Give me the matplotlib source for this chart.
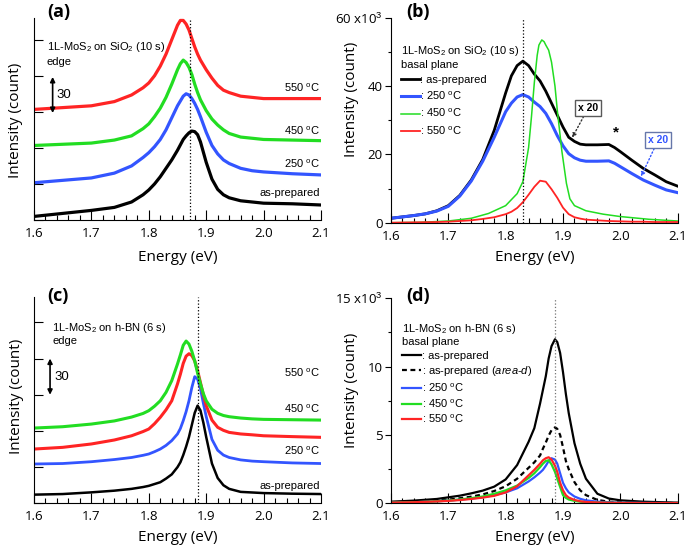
import numpy as np
import matplotlib
matplotlib.use("Agg")
import matplotlib.pyplot as plt
from matplotlib.ticker import MultipleLocator, AutoMinorLocator, FuncFormatter

plt.rcParams['font.family'] = ['Open Sans', 'DejaVu Sans']
plt.rcParams['mathtext.fontset'] = 'custom'
plt.rcParams['mathtext.rm'] = 'Liberation Sans'
plt.rcParams['mathtext.it'] = 'Liberation Sans:italic'
plt.rcParams['mathtext.bf'] = 'Liberation Sans:bold'
plt.rcParams['axes.linewidth'] = 0.8

RED = "#ff2424"
GREEN = "#22dd22"
BLUE = "#3355ff"

# ---- (a) edge, SiO2 (counts, offset spectra)
a_x = [1.60, 1.65, 1.70, 1.74, 1.77, 1.79, 1.80, 1.81, 1.82, 1.83, 1.84, 1.85, 1.855,
       1.86, 1.865, 1.87, 1.875, 1.88, 1.885, 1.89, 1.90, 1.91, 1.92, 1.93, 1.94, 1.96,
       1.98, 2.00, 2.05, 2.10]
a_asprep = [3, 5.5, 8, 10.5, 15, 21, 25, 30, 36, 43, 50, 58, 62.5, 67, 70, 72.5, 74,
            73.5, 71, 65, 48, 34, 25.5, 21, 18.5, 16, 15, 14, 13.5, 12.5]
a_250 = [31, 33, 35, 39, 45, 52, 56, 61, 67, 75, 85, 95, 99, 103, 105, 104, 101, 97,
         92, 86, 73, 62, 55, 50, 47, 43, 41, 40, 38.5, 37.5]
a_450 = [62, 63, 64, 66.5, 70, 76, 80, 86, 93, 102, 113, 125, 130, 133, 131, 127, 121,
         113, 106, 100, 91, 84, 79, 75, 72, 69, 68, 67, 66.5, 66]
a_550 = [92, 93.5, 95, 98.5, 104, 110, 114, 120, 128, 138, 150, 162, 166, 166, 163,
         158, 151, 144, 138, 133, 125, 118, 112, 108, 106, 103, 102, 101, 101, 101]
a_peak = 1.871
t_labels = ["550 $^\\mathrm{o}$C", "450 $^\\mathrm{o}$C", "250 $^\\mathrm{o}$C", "as-prepared"]
a_label_y = [110, 74, 46.5, 22.5]

# ---- (b) basal plane, SiO2 (x10^3 counts)
b_x = [1.60, 1.62, 1.64, 1.66, 1.68, 1.70, 1.72, 1.74, 1.76, 1.78, 1.80, 1.81, 1.82,
       1.83, 1.84, 1.85, 1.86, 1.87, 1.88, 1.89, 1.90, 1.91, 1.92, 1.93, 1.94, 1.96,
       1.98, 1.99, 2.00, 2.02, 2.04, 2.06, 2.08, 2.10]
b_asprep = [1.3, 1.7, 2.1, 2.6, 3.5, 5.0, 8.0, 12.5, 18.5, 27, 38, 43, 46, 47.3, 46,
            43.5, 41.5, 38.5, 35, 31.5, 28, 25, 23.8, 23.0, 22.8, 22.8, 22.9, 22.0,
            20.8, 18.3, 15.9, 14.0, 12.0, 10.7]
b_250 = [1.3, 1.7, 2.1, 2.6, 3.4, 4.8, 7.8, 12.2, 18, 25, 32.5, 35, 36.8, 37.5, 36.8,
         35.3, 34, 32, 29, 25.5, 22.5, 20.2, 19.0, 18.3, 18.0, 18.0, 18.1, 17.4, 16.4,
         14.4, 12.5, 11.0, 9.6, 8.8]
b_550 = [0.0, 0.05, 0.1, 0.15, 0.2, 0.3, 0.5, 0.7, 1.1, 1.6, 2.5, 3.2, 4.3, 6.0, 8.2,
         10.5, 12.3, 12.0, 9.8, 7.3, 4.4, 2.5, 1.6, 1.2, 0.9, 0.7, 0.5, 0.45, 0.4, 0.3,
         0.3, 0.2, 0.2, 0.2]
b_x450 = [1.60, 1.65, 1.70, 1.74, 1.77, 1.80, 1.82, 1.83, 1.84, 1.845, 1.85, 1.855,
          1.858, 1.863, 1.867, 1.87, 1.875, 1.88, 1.886, 1.89, 1.898, 1.906, 1.912,
          1.92, 1.94, 1.97, 2.00, 2.05, 2.10]
b_450 = [0, 0.1, 0.5, 1.3, 2.7, 5.0, 8.5, 12, 22, 31, 41, 49, 52, 53.5, 53, 52, 50.5,
         47, 40, 33, 21, 11.5, 7.0, 5.0, 3.5, 2.5, 1.8, 1.0, 0.5]
b_peak = 1.83

# ---- (c) edge, h-BN
c_x = [1.60, 1.65, 1.70, 1.74, 1.77, 1.79, 1.80, 1.81, 1.82, 1.83, 1.84, 1.85, 1.855,
       1.86, 1.865, 1.87, 1.875, 1.88, 1.885, 1.89, 1.895, 1.90, 1.91, 1.92, 1.93,
       1.94, 1.96, 1.98, 2.00, 2.05, 2.10]
c_asprep = [7.2, 7.7, 9.1, 10.5, 12, 13.5, 14.5, 16, 17.5, 20.5, 24, 30, 34, 40, 47,
            55, 65, 75, 81, 77, 67, 55, 33, 21, 15, 12, 9.5, 9, 8.5, 8, 7.7]
c_250 = [32.6, 33, 34.5, 36.3, 38, 39.8, 40.9, 42.8, 45, 48, 52, 57.5, 62, 68.5, 76,
         85, 96, 105, 103, 95, 83, 72, 53, 44, 40, 38, 36, 35, 34.5, 33.5, 33]
c_550 = [45, 46.4, 49.2, 52.5, 56, 59.5, 61.6, 66, 71.3, 77.5, 85, 99, 107, 116, 122,
         124, 122.5, 118, 110, 100, 90, 81, 69, 63, 60.5, 58.8, 57.5, 56.8, 56, 55.3, 54.7]
c_450 = [62.4, 63.5, 65.7, 68.3, 71.5, 74.5, 76.8, 80.5, 85, 92, 101.7, 115.5, 123,
         131, 134.5, 132, 126, 118, 108, 99, 91, 85, 78, 74.6, 72.8, 71.8, 70.7, 70,
         69.6, 69.3, 69]
c_peak = 1.886
c_label_y = [108.5, 78, 43.5, 14.5]

# ---- (d) basal plane, h-BN (x10^3 counts)
d_x = [1.60, 1.64, 1.68, 1.70, 1.72, 1.74, 1.76, 1.78, 1.80, 1.82, 1.84, 1.85, 1.86,
       1.865, 1.87, 1.875, 1.88, 1.886, 1.89, 1.895, 1.90, 1.905, 1.91, 1.92, 1.93,
       1.94, 1.96, 1.98, 2.00, 2.04, 2.10]
d_asprep = [0.12, 0.2, 0.32, 0.44, 0.56, 0.73, 0.93, 1.22, 1.75, 2.8, 4.5, 5.5, 7.3,
            8.3, 9.3, 10.6, 11.5, 12.0, 11.8, 11.0, 9.6, 8.0, 6.6, 4.4, 2.9, 1.8, 0.7,
            0.35, 0.22, 0.12, 0.05]
d_aread = [0.07, 0.12, 0.22, 0.27, 0.37, 0.49, 0.65, 0.9, 1.25, 1.8, 2.6, 3.0, 3.5,
           4.0, 4.45, 4.95, 5.35, 5.56, 5.45, 5.0, 4.1, 3.1, 2.5, 1.55, 0.95, 0.6,
           0.25, 0.12, 0.08, 0.04, 0.02]
d_250 = [0.05, 0.08, 0.15, 0.2, 0.27, 0.35, 0.45, 0.6, 0.8, 1.1, 1.6, 1.9, 2.25, 2.45,
         2.75, 3.1, 3.3, 3.2, 2.9, 2.2, 1.5, 1.1, 0.8, 0.5, 0.33, 0.22, 0.12, 0.08,
         0.05, 0.03, 0.02]
d_450 = [0.05, 0.08, 0.15, 0.2, 0.28, 0.38, 0.5, 0.7, 0.95, 1.3, 1.85, 2.2, 2.65, 2.9,
         3.1, 3.15, 2.85, 2.3, 1.8, 1.2, 0.6, 0.4, 0.28, 0.18, 0.12, 0.08, 0.05, 0.04,
         0.03, 0.02, 0.02]
d_550 = [0.05, 0.08, 0.14, 0.18, 0.24, 0.32, 0.42, 0.55, 0.8, 1.25, 2.05, 2.45, 2.9,
         3.15, 3.3, 3.37, 3.2, 2.75, 2.3, 1.5, 0.95, 0.6, 0.42, 0.25, 0.15, 0.1, 0.06,
         0.04, 0.03, 0.02, 0.02]
d_peak = 1.886

ann = {'family': 'Liberation Sans', 'size': 8}


def style_ax(ax, ymax, ymajor, yminor=None, ylabels=False):
    for s in ["top", "right"]:
        ax.spines[s].set_visible(False)
    ax.set_xlim(1.6, 2.1)
    ax.set_ylim(0, ymax)
    ax.xaxis.set_major_locator(MultipleLocator(0.1))
    ax.xaxis.set_minor_locator(AutoMinorLocator(5))
    ax.xaxis.set_major_formatter(FuncFormatter(lambda v, p: "%.1f" % v))
    ax.tick_params("x", which="major", direction="in", length=7, width=0.8,
                   labelsize=9.5, pad=5)
    ax.tick_params("x", which="minor", direction="in", length=3.5, width=0.8)
    ax.yaxis.set_major_locator(MultipleLocator(ymajor))
    if ylabels:
        ax.yaxis.set_minor_locator(MultipleLocator(yminor))
        ax.tick_params("y", which="major", direction="out", length=4, width=0.8,
                       labelsize=9.5, pad=2)
        ax.tick_params("y", which="minor", direction="out", length=2.5, width=0.8)
        ax.yaxis.set_major_formatter(FuncFormatter(
            lambda v, p: ("%g x10$^3$" % v) if abs(v - ymax) < 1e-6 else "%g" % v))
    else:
        ax.tick_params("y", which="major", direction="in", length=6.5, width=0.8,
                       labelleft=False)
    ax.set_xlabel("Energy (eV)", fontsize=11)
    ax.set_ylabel("Intensity (count)", fontsize=11)


fig = plt.figure(figsize=(6.92, 5.48), dpi=100)
ax_a = fig.add_axes([0.0491, 0.5985, 0.4148, 0.3686])
ax_b = fig.add_axes([0.565, 0.5936, 0.4143, 0.374])
ax_c = fig.add_axes([0.0491, 0.0815, 0.4148, 0.3765])
ax_d = fig.add_axes([0.565, 0.0815, 0.4143, 0.3742])

# (a)
style_ax(ax_a, 168, 30)
ax_a.plot(a_x, a_asprep, color="k", lw=2.3)
ax_a.plot(a_x, a_250, color=BLUE, lw=2.3)
ax_a.plot(a_x, a_450, color=GREEN, lw=2.3)
ax_a.plot(a_x, a_550, color=RED, lw=2.3)
ax_a.axvline(a_peak, color="k", ls=":", lw=0.9)
for t, yv in zip(t_labels, a_label_y):
    ax_a.text(2.098, yv, t, fontdict=ann, ha="right", va="center")
ax_a.text(0.045, 0.855, "1L-MoS$_2$ on SiO$_2$ (10 s)", fontdict=ann, transform=ax_a.transAxes, va="center")
ax_a.text(0.045, 0.782, "edge", fontdict=ann, transform=ax_a.transAxes, va="center")
ax_a.annotate("", xy=(0.065, 89), xytext=(0.065, 119), xycoords=ax_a.get_yaxis_transform(),
              arrowprops=dict(arrowstyle="<|-|>", color="k", lw=1.2, mutation_scale=7, shrinkA=0, shrinkB=0))
ax_a.text(0.08, 104, "30", family="Liberation Sans", fontsize=9.5, va="center",
          transform=ax_a.get_yaxis_transform())
ax_a.xaxis.set_label_coords(0.5, -0.15)
ax_a.yaxis.set_label_coords(-0.038, 0.495)

# (b)
style_ax(ax_b, 60, 20, 10, ylabels=True)
ax_b.plot(b_x, b_asprep, color="k", lw=2.0, label=": as-prepared")
ax_b.plot(b_x, b_250, color=BLUE, lw=2.2, label=": 250 $^\\mathrm{o}$C")
ax_b.plot(b_x450, b_450, color=GREEN, lw=1.1, label=": 450 $^\\mathrm{o}$C")
ax_b.plot(b_x, b_550, color=RED, lw=1.3, label=": 550 $^\\mathrm{o}$C")
ax_b.axvline(b_peak, color="k", ls=":", lw=0.9)
ax_b.legend(loc="upper left", bbox_to_anchor=(0.035, 0.872), frameon=False, prop=ann,
            title="1L-MoS$_2$ on SiO$_2$ (10 s)\nbasal plane", title_fontproperties=ann,
            alignment="left", handlelength=1.7, handletextpad=0.05, labelspacing=0.45,
            borderpad=0, borderaxespad=0)
ax_b.annotate("x 20", xy=(1.916, np.interp(1.916, b_x, b_asprep) + 0.6), xytext=(1.944, 33.6),
              fontsize=7.5, fontweight="bold", family="Liberation Sans", ha="center", va="center",
              bbox=dict(boxstyle="square,pad=0.3", fc="white", ec="0.35", lw=1),
              arrowprops=dict(arrowstyle="-|>", ls=":", color="0.2", lw=1, mutation_scale=6, shrinkA=0, shrinkB=0))
ax_b.annotate("x 20", xy=(2.036, np.interp(2.036, b_x, b_250) + 0.6), xytext=(2.066, 24.2),
              fontsize=7.5, fontweight="bold", family="Liberation Sans", color=BLUE, ha="center", va="center",
              bbox=dict(boxstyle="square,pad=0.3", fc="white", ec="#6677aa", lw=1),
              arrowprops=dict(arrowstyle="-|>", ls=":", color=BLUE, lw=1, mutation_scale=6, shrinkA=0, shrinkB=0))
ax_b.text(1.992, 26.5, "*", family="Liberation Sans", fontsize=11, fontweight="bold", ha="center", va="center")
ax_b.xaxis.set_label_coords(0.5, -0.132)
ax_b.yaxis.set_label_coords(-0.111, 0.6)

# (c)
style_ax(ax_c, 171, 30)
ax_c.plot(c_x, c_asprep, color="k", lw=1.8)
ax_c.plot(c_x, c_250, color=BLUE, lw=2.0)
ax_c.plot(c_x, c_550, color=RED, lw=2.2)
ax_c.plot(c_x, c_450, color=GREEN, lw=2.2)
ax_c.axvline(c_peak, color="k", ls=":", lw=0.9)
for t, yv in zip(t_labels, c_label_y):
    ax_c.text(2.098, yv, t, fontdict=ann, ha="right", va="center")
ax_c.text(0.063, 0.85, "1L-MoS$_2$ on h-BN (6 s)", fontdict=ann, transform=ax_c.transAxes, va="center")
ax_c.text(0.063, 0.787, "edge", fontdict=ann, transform=ax_c.transAxes, va="center")
ax_c.annotate("", xy=(0.056, 90), xytext=(0.056, 120), xycoords=ax_c.get_yaxis_transform(),
              arrowprops=dict(arrowstyle="<|-|>", color="k", lw=1.2, mutation_scale=7, shrinkA=0, shrinkB=0))
ax_c.text(0.073, 105, "30", family="Liberation Sans", fontsize=9.5, va="center",
          transform=ax_c.get_yaxis_transform())
ax_c.xaxis.set_label_coords(0.5, -0.129)
ax_c.yaxis.set_label_coords(-0.035, 0.52)

# (d)
style_ax(ax_d, 15, 5, 2.5, ylabels=True)
ax_d.plot(d_x, d_asprep, color="k", lw=1.6, label=": as-prepared")
ax_d.plot(d_x, d_aread, color="k", lw=1.6, ls=(0, (2.2, 1.6)),
          label=": as-prepared ($\\mathit{area}$-$\\mathit{d}$)")
ax_d.plot(d_x, d_250, color=BLUE, lw=1.6, label=": 250 $^\\mathrm{o}$C")
ax_d.plot(d_x, d_450, color=GREEN, lw=1.6, label=": 450 $^\\mathrm{o}$C")
ax_d.plot(d_x, d_550, color=RED, lw=1.6, label=": 550 $^\\mathrm{o}$C")
ax_d.axvline(d_peak, color="0.45", ls=":", lw=0.9)
ax_d.legend(loc="upper left", bbox_to_anchor=(0.04, 0.885), frameon=False, prop=ann,
            title="1L-MoS$_2$ on h-BN (6 s)\nbasal plane", title_fontproperties=ann,
            alignment="left", handlelength=1.7, handletextpad=0.05, labelspacing=0.3,
            borderpad=0, borderaxespad=0)
ax_d.xaxis.set_label_coords(0.5, -0.132)
ax_d.yaxis.set_label_coords(-0.113, 0.55)

# panel letters
for lbl, x, y in [("(a)", 0.068, 0.978), ("(b)", 0.587, 0.978), ("(c)", 0.068, 0.46), ("(d)", 0.587, 0.46)]:
    fig.text(x, y, lbl, fontsize=13, fontweight="bold", va="center")

fig.savefig("out.png", dpi=100)
